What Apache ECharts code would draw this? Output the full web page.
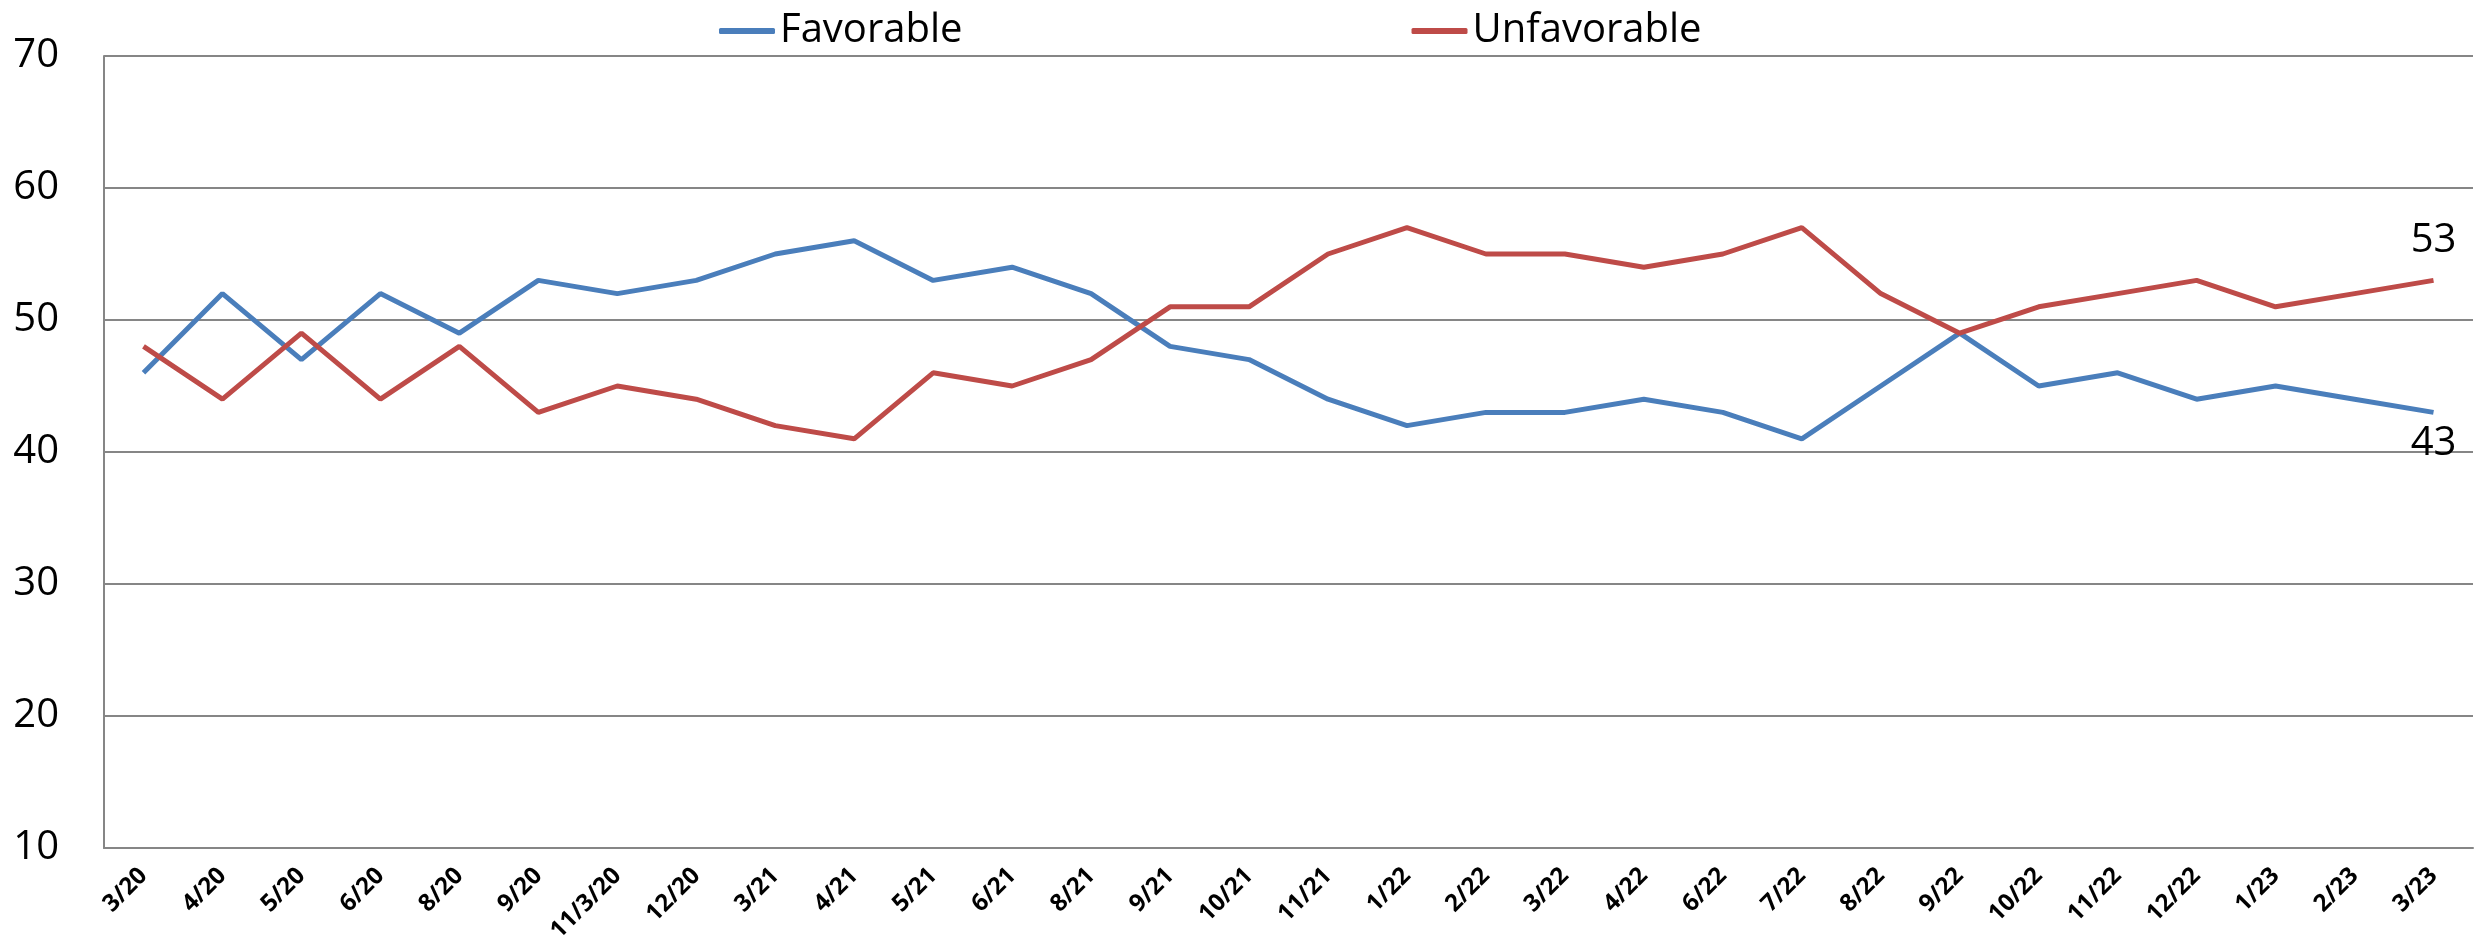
<!DOCTYPE html>
<html>
<head>
<meta charset="utf-8">
<script src="https://cdn.jsdelivr.net/npm/echarts@6/dist/echarts.min.js"></script>
<style>
html,body{margin:0;padding:0;background:#fff;}
#chart{width:2476px;height:950px;}
</style>
</head>
<body>
<div id="chart"></div>
<script>
const categories = ["3/20","4/20","5/20","6/20","8/20","9/20","11/3/20","12/20","3/21","4/21","5/21","6/21","8/21","9/21","10/21","11/21","1/22","2/22","3/22","4/22","6/22","7/22","8/22","9/22","10/22","11/22","12/22","1/23","2/23","3/23"];
const favorable = [46,52,47,52,49,53,52,53,55,56,53,54,52,48,47,44,42,43,43,44,43,41,45,49,45,46,44,45,44,43];
const unfavorable = [48,44,49,44,48,43,45,44,42,41,46,45,47,51,51,55,57,55,55,54,55,57,52,49,51,52,53,51,52,53];
const yTicks = [10,20,30,40,50,60,70];

const FONT = "'Open Sans', 'Noto Sans', sans-serif";
const chart = echarts.init(document.getElementById('chart'));

chart.setOption({
  animation: false,
  textStyle: { fontFamily: FONT },
  grid: { left: 104, right: 3, top: 56, bottom: 102, containLabel: false },
  legend: {
    top: 6,
    left: 714,
    itemGap: 449,
    itemWidth: 56,
    itemHeight: 6,
    icon: 'roundRect',
    textStyle: { fontFamily: FONT, fontSize: 40, color: '#000', padding: [0,0,0,0] },
    data: ['Favorable', 'Unfavorable']
  },
  xAxis: {
    type: 'category',
    data: categories,
    boundaryGap: true,
    axisLine: { show: true, lineStyle: { color: '#868686', width: 2 } },
    axisTick: { show: false },
    axisLabel: {
      interval: 0,
      rotate: 45,
      margin: 24,
      fontFamily: FONT,
      fontWeight: 'bold',
      fontSize: 24,
      color: '#000'
    },
    splitLine: { show: false }
  },
  yAxis: {
    type: 'value',
    min: yTicks[0],
    max: yTicks[yTicks.length - 1],
    interval: 10,
    axisLine: { show: true, lineStyle: { color: '#868686', width: 2 } },
    axisTick: { show: false },
    axisLabel: { margin: 45, fontFamily: FONT, fontSize: 40, color: '#000' },
    splitLine: { show: true, lineStyle: { color: '#868686', width: 2 } }
  },
  series: [
    {
      name: 'Favorable',
      type: 'line',
      data: favorable,
      showSymbol: false,
      symbol: 'none',
      lineStyle: { color: '#4a7ebb', width: 5 },
      itemStyle: { color: '#4a7ebb' },
      markPoint: {
        symbol: 'circle', symbolSize: 0,
        label: { show: true, position: 'bottom', distance: 11, fontFamily: FONT, fontSize: 40, color: '#000', formatter: '{c}' },
        data: [{ coord: [categories.length - 1, favorable[favorable.length - 1]], value: favorable[favorable.length - 1] }]
      }
    },
    {
      name: 'Unfavorable',
      type: 'line',
      data: unfavorable,
      showSymbol: false,
      symbol: 'none',
      lineStyle: { color: '#be4b48', width: 5 },
      itemStyle: { color: '#be4b48' },
      markPoint: {
        symbol: 'circle', symbolSize: 0,
        label: { show: true, position: 'top', distance: 20, fontFamily: FONT, fontSize: 40, color: '#000', formatter: '{c}' },
        data: [{ coord: [categories.length - 1, unfavorable[unfavorable.length - 1]], value: unfavorable[unfavorable.length - 1] }]
      }
    }
  ]
});
</script>
</body>
</html>
